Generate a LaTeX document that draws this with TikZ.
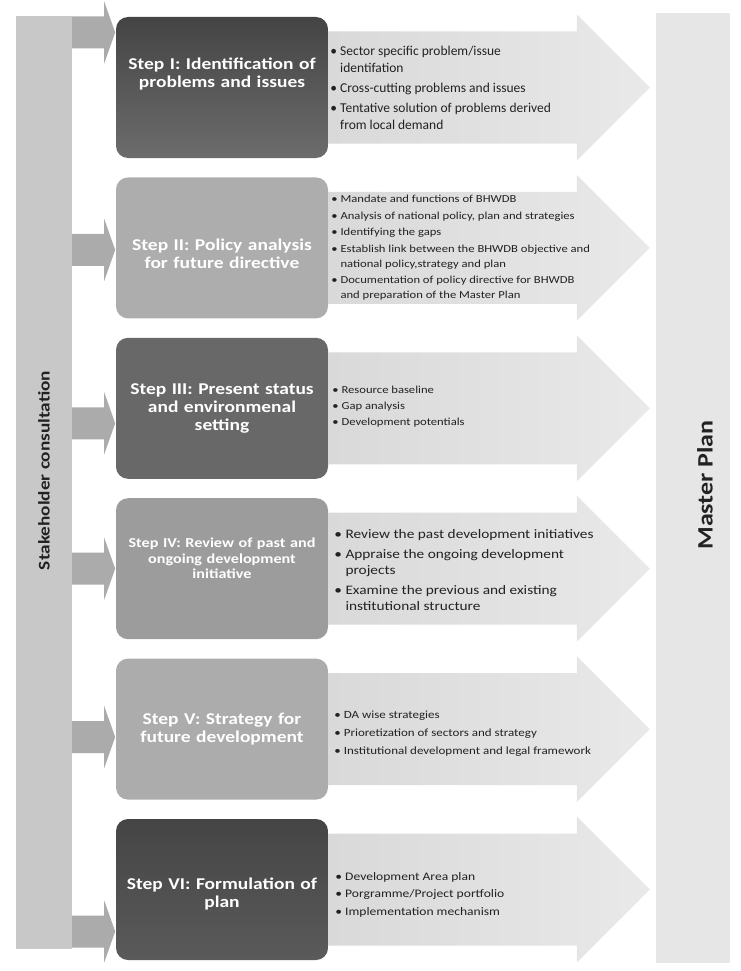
\documentclass[tikz,border=0pt]{standalone}
\usepackage{fontspec}
\setmainfont{Carlito}[FakeStretch=1.18]
\newfontfamily\plainfont{Carlito}
\usetikzlibrary{positioning,calc}
\definecolor{barfill}{HTML}{C8C8C8}
\definecolor{sarrfill}{HTML}{ABABAB}
\definecolor{arrleft}{HTML}{D9D9D9}
\definecolor{arrright}{HTML}{E9E9E9}
\definecolor{planfill}{HTML}{E6E6E6}
\definecolor{ink}{HTML}{222222}
\definecolor{darktop}{HTML}{444444}
\definecolor{darkbot}{HTML}{6C6C6C}
\definecolor{midgray}{HTML}{686868}
\definecolor{lighta}{HTML}{ADADAD}
\definecolor{lightb}{HTML}{9C9C9C}
\definecolor{lightc}{HTML}{ACACAC}
\definecolor{vitop}{HTML}{454545}
\definecolor{vibot}{HTML}{5A5A5A}
\newcommand{\ftitle}{\fontsize{16.5pt}{18pt}\selectfont\bfseries}
\newcommand{\hb}{\textbullet\ }
\newcommand{\hi}{\phantom{\textbullet\ }}
% block arrow from the consultation bar into a step
\newcommand{\stakearr}[2]{%
  \fill[sarr] ($(stake.east |- #1.west)+(0,#2-16)$) -- ++(32,0) -- ++(0,-15) -- ++(11,31)
    -- ++(-11,31) -- ++(0,-15) -- ++(-32,0) -- cycle;}
% wide arrow from a step towards the master plan
\newcommand{\bigarr}[1]{%
  \path[barr] ($(#1.east)+(0,-56)$) -- ($(mp.west |- #1.east)+(-79,-56)$) -- ++(0,-17) -- ++(73,73)
    -- ++(-73,73) -- ++(0,-17) -- ($(#1.east)+(0,56)$) -- cycle;}
\tikzset{
  stepbox/.style={rounded corners=12pt, minimum width=212pt, minimum height=141pt, inner sep=0pt},
  steptitle/.style={text width=205pt, align=center, text=white, font=\ftitle, inner sep=0pt},
  blist/.style={anchor=west, align=left, text=ink, inner sep=0pt},
  sarr/.style={fill=sarrfill},
  barr/.style={left color=arrleft, right color=arrright},
  sidebar/.style={inner sep=0pt, minimum width=#1},
}

\begin{document}
\begin{tikzpicture}[x=1pt, y=-1pt]
  \useasboundingbox (0,0) rectangle (740,971);
  % side bars
  \node[sidebar=56pt, fill=barfill, minimum height=933pt] (stake) at (44,482.5) {};
  \node[sidebar=74pt, fill=planfill, minimum height=950pt] (mp) at (693,488) {};
  \node[rotate=90, font=\fontsize{16.3pt}{18pt}\selectfont\bfseries, text=ink] (stakelab)
    at ($(stake.center)+(0,-12)$) {Stakeholder consultation};
  \node[rotate=90, font=\fontsize{22pt}{24pt}\selectfont\bfseries, text=ink] (mplab)
    at ($(mp.center)+(12,-3)$) {Master Plan};
  % steps
  \node[stepbox, top color=darktop, bottom color=darkbot] (s1) at (222,87.5) {};
  \node[stepbox, fill=lighta, below=19pt of s1] (s2) {};
  \node[stepbox, fill=midgray, below=19pt of s2] (s3) {};
  \node[stepbox, fill=lightb, below=19pt of s3] (s4) {};
  \node[stepbox, fill=lightc, below=19pt of s4] (s5) {};
  \node[stepbox, top color=vitop, bottom color=vibot, below=19pt of s5] (s6) {};
  \node[steptitle] (h1) at ($(s1.center)+(0,-14)$) {Step I: Identification of\\problems and issues};
  \node[steptitle] (h2) at ($(s2.center)+(0,6)$) {Step II: Policy analysis\\for future directive};
  \node[steptitle] (h3) at (s3.center) {Step III: Present status\\and environmenal\\setting};
  \node[steptitle, font=\fontsize{13.7pt}{15.5pt}\selectfont\bfseries] (h4) at ($(s4.center)+(0,-10)$)
    {Step IV: Review of past and\\ongoing development\\initiative};
  \node[steptitle] (h5) at (s5.center) {Step V: Strategy for\\future development};
  \node[steptitle] (h6) at ($(s6.center)+(0,4)$) {Step VI: Formulation of\\plan};
  % arrows
  \stakearr{s1}{-55}
  \stakearr{s2}{2}
  \stakearr{s3}{15}
  \stakearr{s4}{0}
  \stakearr{s5}{8}
  \stakearr{s6}{42}
  \foreach \s in {s1,s2,s3,s4,s5,s6}{\bigarr{\s}}
  % bullet lists
  \node[blist, font=\plainfont\fontsize{13.5pt}{17pt}\selectfont] (t1) at ($(s1.east)+(2,0)$)
    {\hb Sector specific problem/issue\\\hi identifation\\[3pt]
     \hb Cross-cutting problems and issues\\[3pt]
     \hb Tentative solution of problems derived\\\hi from local demand};
  \node[blist, font=\fontsize{10.7pt}{15pt}\selectfont] (t2) at ($(s2.east)+(3,0)$)
    {\hb Mandate and functions of BHWDB\\[1.5pt]
     \hb Analysis of national policy, plan and strategies\\[1.5pt]
     \hb Identifying the gaps\\[1.5pt]
     \hb Establish link between the BHWDB objective and\\\hi national policy,strategy and plan\\[1.5pt]
     \hb Documentation of policy directive for BHWDB\\\hi and preparation of the Master Plan};
  \node[blist, font=\fontsize{10.7pt}{16pt}\selectfont] (t3) at ($(s3.east)+(4,-2)$)
    {\hb Resource baseline\\\hb Gap analysis\\\hb Development potentials};
  \node[blist, font=\fontsize{13pt}{16pt}\selectfont] (t4) at ($(s4.east)+(6,1)$)
    {\hb Review the past development initiatives\\[4pt]
     \hb Appraise the ongoing development\\\hi projects\\[4pt]
     \hb Examine the previous and existing\\\hi institutional structure};
  \node[blist, font=\fontsize{11pt}{18pt}\selectfont] (t5) at ($(s5.east)+(6,5)$)
    {\hb DA wise strategies\\\hb Prioretization of sectors and strategy\\
     \hb Institutional development and legal framework};
  \node[blist, font=\fontsize{11.5pt}{17.5pt}\selectfont] (t6) at ($(s6.east)+(7,5)$)
    {\hb Development Area plan\\\hb Porgramme/Project portfolio\\\hb Implementation mechanism};
\end{tikzpicture}
\end{document}
